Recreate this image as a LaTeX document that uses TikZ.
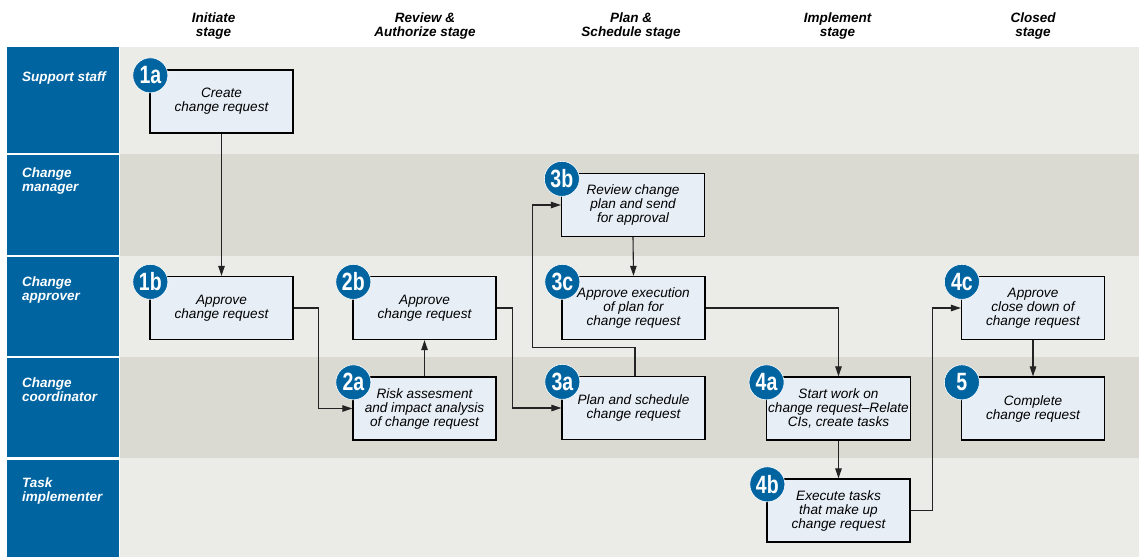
\documentclass[tikz,border=0pt]{standalone}
\usepackage{fontspec}
\setmainfont{Liberation Sans}
\newfontfamily\badgefont[FakeStretch=0.78]{Liberation Sans}
\usetikzlibrary{arrows.meta}
\definecolor{laneblue}{RGB}{0,100,161}
\definecolor{lanelight}{RGB}{235,235,231}
\definecolor{lanedark}{RGB}{218,217,210}
\definecolor{boxfill}{RGB}{231,238,246}
\definecolor{linegray}{RGB}{35,35,35}
\tikzset{
  lanelabel/.style={anchor=north west, inner sep=0pt, text=white, align=left,
    font=\fontsize{13.5}{14}\selectfont\bfseries\itshape},
  header/.style={anchor=north, inner sep=0pt, align=center,
    font=\fontsize{13.5}{14}\selectfont\bfseries\itshape},
  stepbox/.style={draw=black, line width=1.3pt, fill=boxfill, minimum width=143pt,
    minimum height=63pt, inner sep=2pt, align=center,
    font=\fontsize{13.6}{14}\selectfont\itshape},
  badge/.style={circle, fill=laneblue, draw=white, line width=0.6pt, minimum size=35pt,
    inner sep=0pt, text=white, font=\badgefont\bfseries\fontsize{25}{25}\selectfont},
  flow/.style={draw=linegray, line width=1.1pt, -{Triangle[length=10pt,width=6.5pt]}}
}
\begin{document}
\begin{tikzpicture}[x=1pt,y=-1pt]
\useasboundingbox (0,0) rectangle (1139,557);
\fill[white] (0,0) rectangle (1139,557);
% lanes
\fill[lanelight] (120,47) rectangle (1139,154);
\fill[lanedark] (120,154) rectangle (1139,256);
\fill[lanelight] (120,256) rectangle (1139,357);
\fill[lanedark] (120,357) rectangle (1139,458);
\fill[lanelight] (120,458) rectangle (1139,557);
\fill[laneblue] (7,47) rectangle (119,152.5);
\fill[laneblue] (7,155) rectangle (119,254.5);
\fill[laneblue] (7,257) rectangle (119,355.5);
\fill[laneblue] (7,358) rectangle (119,457);
\fill[laneblue] (7,460) rectangle (119,557);
% lane labels
\node[lanelabel] (lss) at (22,71.7) {Support staff};
\node[lanelabel] (lcm) at (22,167.5) {Change\\manager};
\node[lanelabel] (lca) at (22,277) {Change\\approver};
\node[lanelabel] (lcc) at (22,377.5) {Change\\coordinator};
\node[lanelabel] (lti) at (22,478) {Task\\implementer};
% headers
\node[header] (h1) at (213.5,12.5) {Initiate\\stage};
\node[header] (h2) at (425,12.5) {Review \&\\Authorize stage};
\node[header] (h3) at (631,12.5) {Plan \&\\Schedule stage};
\node[header] (h4) at (837.5,12.5) {Implement\\stage};
\node[header] (h5) at (1033,12.5) {Closed\\stage};
% boxes
\node[stepbox] (n1a) at (221.5,101.5) {Create\\change request};
\node[stepbox] (n1b) at (221.5,308) {Approve\\change request};
\node[stepbox] (n2b) at (424.5,308) {Approve\\change request};
\node[stepbox] (n2a) at (424.5,408.5) {Risk assesment\\and impact analysis\\of change request};
\node[stepbox] (n3b) at (633,205) {Review change\\plan and send\\for approval};
\node[stepbox] (n3c) at (633.5,308) {Approve execution\\of plan for\\change request};
\node[stepbox] (n3a) at (633.5,408) {Plan and schedule\\change request};
\node[stepbox] (n4a) at (838.5,408.5) {Start work on\\change request--Relate\\CIs, create tasks};
\node[stepbox] (n4b) at (838.5,510.5) {Execute tasks\\that make up\\change request};
\node[stepbox] (n4c) at (1033,308) {Approve\\close down of\\change request};
\node[stepbox] (n5) at (1033,408.5) {Complete\\change request};
% badges
\foreach \n/\t in {n1a/1a,n1b/1b,n2a/2a,n2b/2b,n3a/3a,n3b/3b,n3c/3c,n4a/4a,n4b/4b,n4c/4c,n5/5}
  \node[badge] (b\n) at ([shift={(1,6)}]\n.north west) {\t};
% connectors
\draw[flow] (n1a.south) -- (n1b.north);
\draw[flow] (n1b.east) -- ++(25,0) |- (n2a.west);
\draw[flow] (n2a.north) -- (n2b.south);
\draw[flow] (n2b.east) -- ++(16,0) |- (n3a.west);
\draw[flow] ([xshift=1.5pt]n3a.north) -- ++(0,-28) -- ++(-102.5,0) |- (n3b.west);
\draw[flow] (n3b.south) -- (n3c.north);
\draw[flow] (n3c.east) -| (n4a.north);
\draw[flow] (n4a.south) -- (n4b.north);
\draw[flow] (n4b.east) -- ++(22,0) |- (n4c.west);
\draw[flow] (n4c.south) -- (n5.north);
\end{tikzpicture}
\end{document}
